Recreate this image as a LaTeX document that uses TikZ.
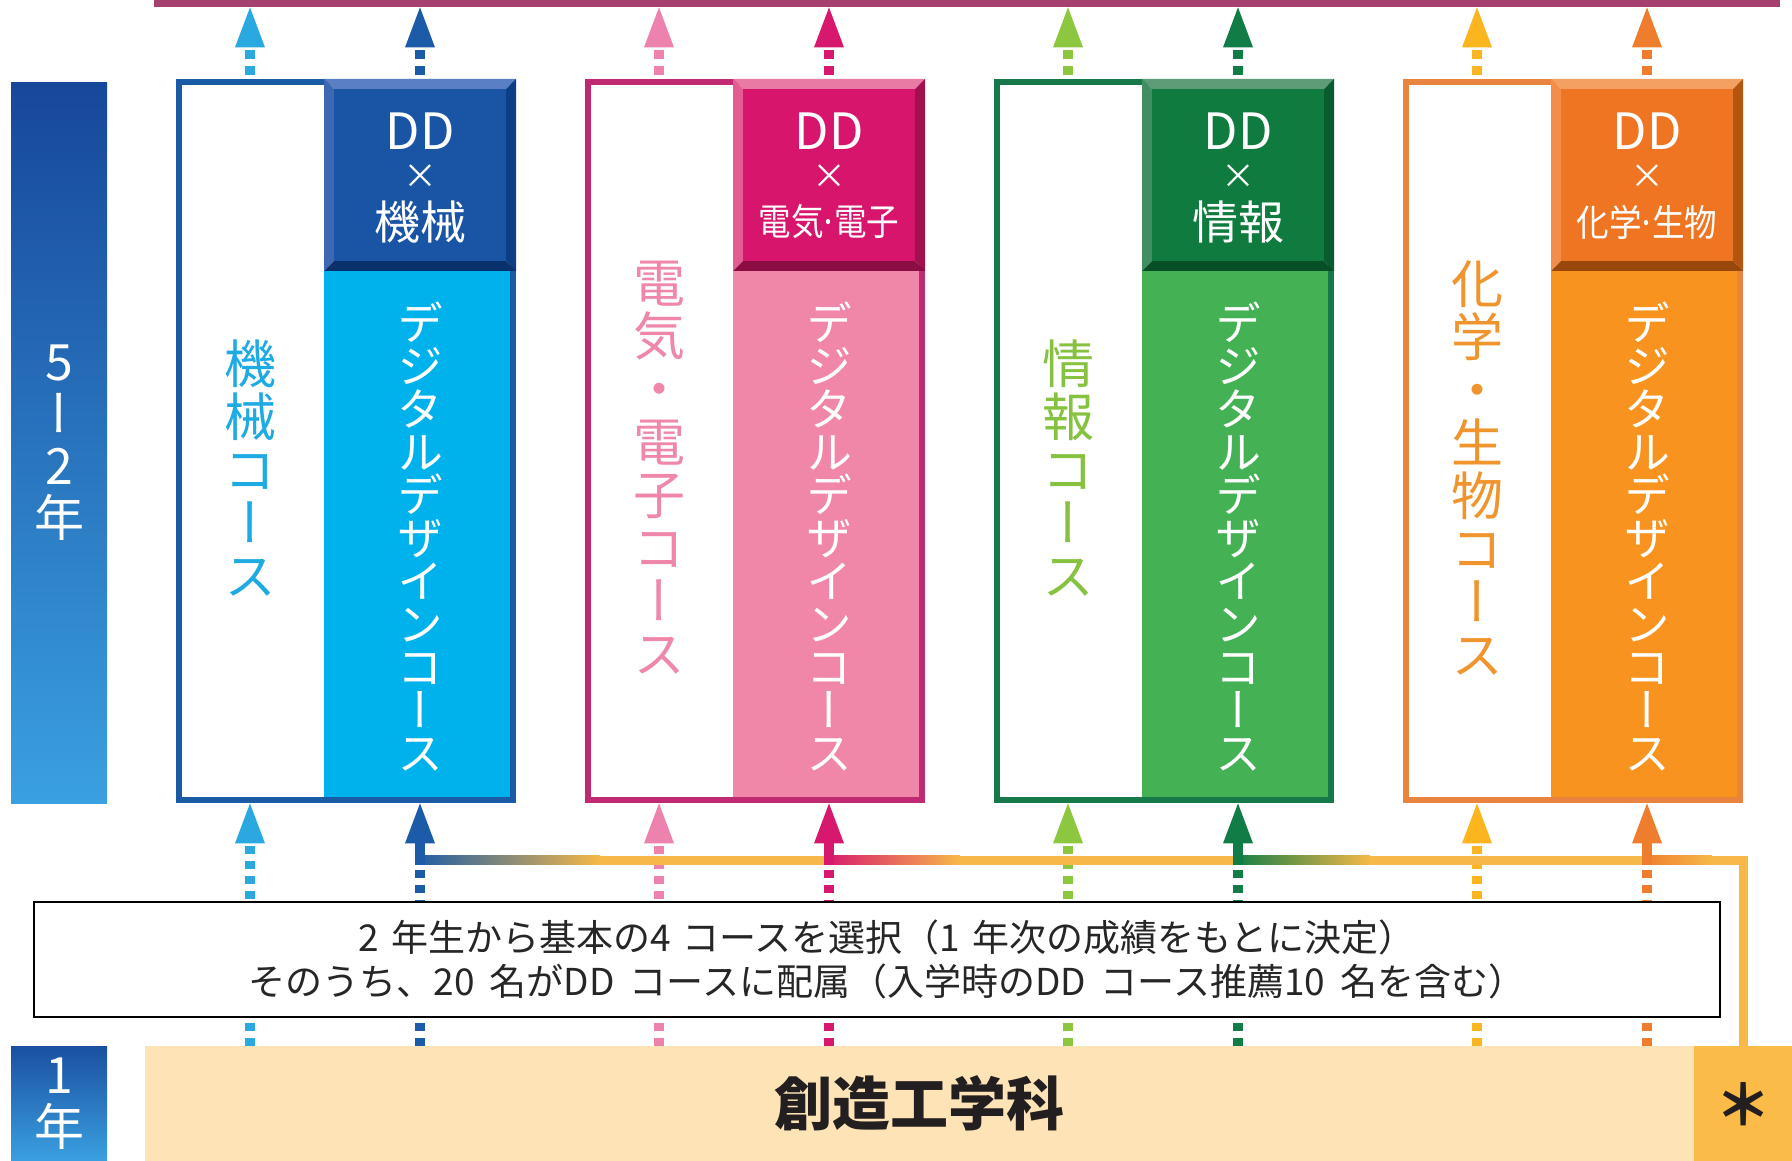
\documentclass[tikz,border=0pt]{standalone}
\usepackage{fontspec}
\setmainfont{Noto Sans CJK JP}
\newfontfamily\jpv[RawFeature=+vert]{Noto Sans CJK JP}
\usetikzlibrary{arrows.meta}

\definecolor{toplinec}{HTML}{A5406F}
\definecolor{orng}{HTML}{F6B848}
\definecolor{yrtop}{HTML}{17479A}
\definecolor{yrbot}{HTML}{3AA0E0}
\definecolor{basefill}{HTML}{FDE3B6}
\definecolor{starfill}{HTML}{FBBB48}
\definecolor{basetext}{HTML}{231F20}
% column 1
\definecolor{bd1}{HTML}{1A5BA5}\definecolor{fc1}{HTML}{1955A4}\definecolor{lt1}{HTML}{5A80C3}
\definecolor{dk1}{HTML}{0B3E85}\definecolor{bt1}{HTML}{08306A}\definecolor{fl1}{HTML}{00B2EC}
\definecolor{tx1}{HTML}{1EAAE3}\definecolor{aw1}{HTML}{29A9E0}\definecolor{ad1}{HTML}{1C5BA7}
\definecolor{lf1}{HTML}{3F68B4}
% column 2
\definecolor{bd2}{HTML}{C02A72}\definecolor{fc2}{HTML}{D8156D}\definecolor{lt2}{HTML}{E97AA4}
\definecolor{dk2}{HTML}{A1104F}\definecolor{bt2}{HTML}{8C0C44}\definecolor{fl2}{HTML}{F087A9}
\definecolor{tx2}{HTML}{EF87AB}\definecolor{aw2}{HTML}{EE82AE}\definecolor{ad2}{HTML}{D7186F}
\definecolor{lf2}{HTML}{E35C92}
% column 3
\definecolor{bd3}{HTML}{17784A}\definecolor{fc3}{HTML}{0F7B3E}\definecolor{lt3}{HTML}{5E9C78}
\definecolor{dk3}{HTML}{085C2D}\definecolor{bt3}{HTML}{074F27}\definecolor{fl3}{HTML}{44B155}
\definecolor{tx3}{HTML}{86C23F}\definecolor{aw3}{HTML}{8DC63F}\definecolor{ad3}{HTML}{0F7D45}
\definecolor{lf3}{HTML}{418E62}
% column 4
\definecolor{bd4}{HTML}{E8843F}\definecolor{fc4}{HTML}{EF7523}\definecolor{lt4}{HTML}{F3A062}
\definecolor{dk4}{HTML}{B45510}\definecolor{bt4}{HTML}{9A470C}\definecolor{fl4}{HTML}{F7931E}
\definecolor{tx4}{HTML}{F0952E}\definecolor{aw4}{HTML}{FBB51F}\definecolor{ad4}{HTML}{EF7D2E}
\definecolor{lf4}{HTML}{F28E4A}

\tikzset{
  coursebox/.style={inner sep=0pt, minimum width=340pt, minimum height=724pt, anchor=north west},
  yrbar/.style={inner sep=0pt, minimum width=96pt, anchor=north west, top color=yrtop, bottom color=yrbot,
     text=white, align=center, font=\jpv\fontsize{50}{52}\selectfont},
  hdr/.style={inner sep=0pt, text=white, font=\fontsize{50}{50}\selectfont},
  hdrx/.style={inner sep=0pt, text=white, font=\fontsize{34}{34}\selectfont},
  vname/.style={inner sep=0pt, align=center, font=\jpv\fontsize{52}{53}\selectfont},
  vdd/.style={inner sep=0pt, align=center, text=white, font=\jpv\fontsize{46}{43}\selectfont},
  uparr/.style={line width=10pt, dash pattern=on 9pt off 7pt, dash phase=13pt, {Triangle[width=30pt,length=40pt,line width=0pt]}-},
  loarr/.style={line width=10pt, dash pattern=on 8pt off 7pt, dash phase=12pt, {Triangle[width=30pt,length=40pt,line width=0pt]}-},
  lodash/.style={line width=10pt, dash pattern=on 8pt off 7pt},
  stub/.style={line width=10pt, -{Triangle[width=30pt,length=40pt,line width=0pt]}},
  conn/.style={line width=9pt, color=orng, line join=miter},
}

\newcommand\ndot{\hspace{-0.12em}·\hspace{-0.12em}}

\newcommand\coursecol[5]{%
  \node[coursebox] (box#1) at (#2,79) {};
  \coordinate (w#1) at (#2+74,0);
  \coordinate (d#1) at (#2+244,0);
  \coordinate (j#1) at (#2+244,864.5);
  \fill[fl#1] (#2+148,271) rectangle (#2+340,803);
  \draw[bd#1,line width=6pt] (#2+3,82) rectangle (#2+337,800);
  \fill[lt#1] (#2+148,79) -- (#2+340,79) -- (#2+330,89) -- (#2+158,89) -- cycle;
  \fill[lf#1] (#2+148,79) -- (#2+158,89) -- (#2+158,261) -- (#2+148,271) -- cycle;
  \fill[dk#1] (#2+340,79) -- (#2+340,271) -- (#2+330,261) -- (#2+330,89) -- cycle;
  \fill[bt#1] (#2+148,271) -- (#2+340,271) -- (#2+330,261) -- (#2+158,261) -- cycle;
  \fill[fc#1] (#2+158,89) rectangle (#2+330,261);
  \node[hdr] (hA#1) at (#2+244,131) {DD};
  \node[hdrx] (hB#1) at (#2+244,177) {×};
  \node[hdr] (hC#1) at (#2+244,222) {\fontsize{#5}{#5}\selectfont #4};
  \node[vname, text=tx#1] (vn#1) at (#2+74,468) {#3};
  \node[vdd] (vd#1) at (#2+244,537) {デ\\ジ\\タ\\ル\\デ\\ザ\\イ\\ン\\コ\\ー\\ス};
}

\begin{document}
\lineskiplimit=-200pt
\begin{tikzpicture}[x=1pt,y=-1pt]
\useasboundingbox (0,0) rectangle (1792,1161);
\fill[white] (0,0) rectangle (1792,1161);

% year bars
\node[yrbar, minimum height=721pt] (yr52) at (11,82) {5\\ー\\2\\年};
\node[yrbar, minimum height=115pt, top color=yrtop!90!yrbot] (yr1) at (11,1046) {1\\年};

% bottom bar
\node[fill=basefill, inner sep=0pt, minimum width=1549pt, minimum height=115pt, anchor=north west,
      font=\bfseries\fontsize{58}{58}\selectfont, text=basetext] (base) at (145,1046) {創造工学科};
\node[fill=starfill, inner sep=0pt, minimum width=98pt, minimum height=115pt, anchor=north west,
      font=\bfseries\fontsize{56}{56}\selectfont, text=basetext] (star) at (1694,1046) {＊};

% top line
\node[fill=toplinec, inner sep=0pt, minimum width=1626pt, minimum height=7pt, anchor=north west] (top) at (154,0) {};

% note box
\node[draw=black, line width=1.5pt, fill=white, inner sep=0pt, minimum width=1686pt, minimum height=115pt,
      align=center, font=\fontsize{37}{44}\selectfont, text=black!85] (note) at (877,959.5)
  {\hspace*{20pt}2\hspace{12pt}年生から基本の4\hspace{12pt}コースを選択（1\hspace{12pt}年次の成績をもとに決定）\\
   \hspace*{20pt}そのうち、20\hspace{15pt}名がDD\hspace{15pt}コースに配属（入学時のDD\hspace{15pt}コース推薦10\hspace{15pt}名を含む）};

% course columns
\coursecol{1}{176}{機\\械\\コ\\ー\\ス}{機械}{46}
\coursecol{2}{585}{電\\気\\・\\電\\子\\コ\\ー\\ス}{\scalebox{0.88}[1]{電気\ndot 電子}}{37}
\coursecol{3}{994}{情\\報\\コ\\ー\\ス}{情報}{46}
\coursecol{4}{1403}{化\\学\\・\\生\\物\\コ\\ー\\ス}{\scalebox{0.88}[1]{化学\ndot 生物}}{37}

% arrows
\foreach \i in {1,...,4} {
  \draw[uparr, color=aw\i] (top.south -| w\i) -- (box\i.north -| w\i);
  \draw[uparr, color=ad\i] (top.south -| d\i) -- (box\i.north -| d\i);
  \draw[loarr, color=aw\i] (box\i.south -| w\i) -- (note.north -| w\i);
  \draw[lodash, color=aw\i] (base.north -| w\i) -- (note.south -| w\i);
  \draw[lodash, color=ad\i] (base.north -| d\i) -- (note.south -| d\i);
  \draw[lodash, color=ad\i, dash phase=10pt] (j\i) -- (note.north -| d\i);
}

% connector from * to DD courses
\coordinate (cl) at (415,860);
\draw[conn] (star.north) |- (cl);
\shade[left color=ad1, right color=orng] (415,855.5) rectangle (600,864.5);
\shade[left color=ad2, right color=orng] (824,855.5) rectangle (960,864.5);
\shade[left color=ad3, right color=orng] (1233,855.5) rectangle (1370,864.5);
\shade[left color=ad4, right color=orng] (1642,855.5) rectangle (1712,864.5);
\foreach \i in {1,...,4} {
  \draw[stub, color=ad\i] (j\i) -- (box\i.south -| d\i);
}
\end{tikzpicture}
\end{document}
